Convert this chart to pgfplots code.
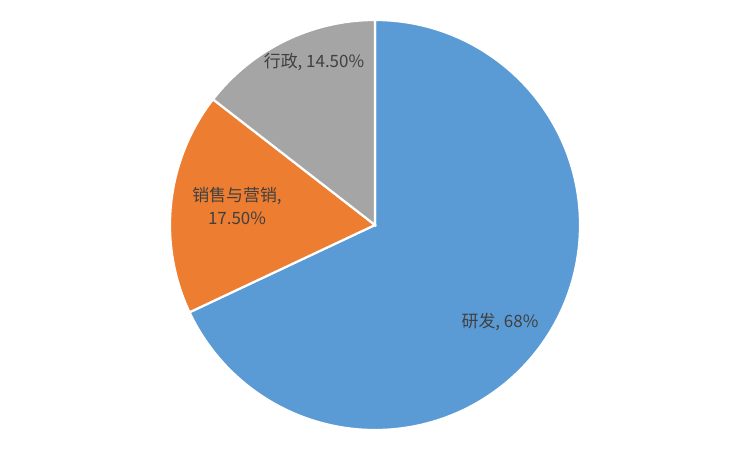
\documentclass[border=0pt]{standalone}
\usepackage{pgfplots}
\usepackage{pgfplotstable}
\usepackage{fontspec}
\setmainfont{Noto Sans CJK SC}
\pgfplotsset{compat=1.18}

\definecolor{pieblue}{HTML}{5B9BD5}
\definecolor{pieorange}{HTML}{ED7D31}
\definecolor{piegray}{HTML}{A5A5A5}
\definecolor{labeltext}{HTML}{404040}

% share of each department, in percent
\pgfplotstableread{
name value
研发 68
销售与营销 17.5
行政 14.5
}\piedata

\begin{document}
\begin{tikzpicture}
\pgfplotstablegetelem{0}{value}\of\piedata \let\va\pgfplotsretval
\pgfplotstablegetelem{1}{value}\of\piedata \let\vb\pgfplotsretval
\pgfplotstablegetelem{2}{value}\of\piedata \let\vc\pgfplotsretval
\pgfmathsetmacro\aA{90}
\pgfmathsetmacro\aB{\aA-3.6*\va}
\pgfmathsetmacro\aC{\aB-3.6*\vb}
\pgfmathsetmacro\aD{\aC-3.6*\vc}
\begin{axis}[
    width=753bp, height=452bp,
    scale only axis,
    xmin=0, xmax=753, ymin=0, ymax=452,
    y dir=reverse,
    hide axis,
    clip=false,
]
\path (axis cs:0,0) rectangle (axis cs:753,452);
\filldraw[pieblue, draw=white, line width=2.2pt]
    (axis cs:375,225) -- ++(\aA:205bp) arc[start angle=\aA, end angle=\aB, radius=205bp] -- cycle;
\filldraw[pieorange, draw=white, line width=2.2pt]
    (axis cs:375,225) -- ++(\aB:205bp) arc[start angle=\aB, end angle=\aC, radius=205bp] -- cycle;
\filldraw[piegray, draw=white, line width=2.2pt]
    (axis cs:375,225) -- ++(\aC:205bp) arc[start angle=\aC, end angle=\aD, radius=205bp] -- cycle;

\node[text=labeltext, font=\fontsize{17}{20}\selectfont] at (axis cs:314,62) {行政, 14.50\%};
\node[text=labeltext, font=\fontsize{17}{23}\selectfont, align=center] at (axis cs:237,206) {销售与营销,\\17.50\%};
\node[text=labeltext, font=\fontsize{17}{20}\selectfont] at (axis cs:500,322) {研发, 68\%};
\end{axis}
\end{tikzpicture}
\end{document}
